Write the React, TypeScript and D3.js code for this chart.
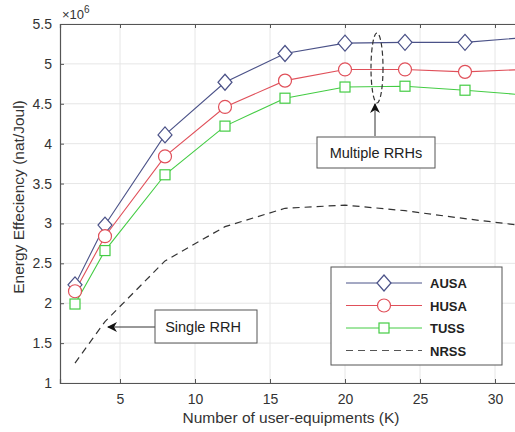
import React, { useEffect, useRef } from 'react';
import * as d3 from 'd3';

// values are in units of 1e6 nat/Joul
const users = [2, 4, 8, 12, 16, 20, 24, 28, 32];
const ausa = [2.23, 2.98, 4.11, 4.77, 5.13, 5.26, 5.27, 5.27, 5.33];
const husa = [2.15, 2.84, 3.84, 4.46, 4.79, 4.93, 4.93, 4.9, 4.93];
const tuss = [1.99, 2.66, 3.61, 4.22, 4.57, 4.71, 4.72, 4.67, 4.61];
const nrss = [1.25, 1.77, 2.53, 2.96, 3.19, 3.23, 3.16, 3.06, 2.97];
const xTicks = [5, 10, 15, 20, 25, 30];
const yTicks = [1, 1.5, 2, 2.5, 3, 3.5, 4, 4.5, 5, 5.5];

const App = () => {
  const svgRef = useRef<SVGSVGElement>(null);

  useEffect(() => {
    const w = 515;
    const h = 432;
    const m = { left: 60, top: 24, right: 525, bottom: 383 };
    const svg = d3.select(svgRef.current).attr('width', w).attr('height', h);
    svg.selectAll('*').remove();
    svg.append('rect').attr('width', w).attr('height', h).attr('fill', '#fff');

    const x = d3.scaleLinear().domain([1, 32]).range([m.left, m.right]);
    const y = d3.scaleLinear().domain([1, 5.5]).range([m.bottom, m.top]);
    const font = 'Liberation Sans, Arial, sans-serif';

    // grid
    const grid = svg.append('g').attr('stroke', '#e6e6e6').attr('stroke-width', 1);
    xTicks.forEach((t) =>
      grid.append('line').attr('x1', x(t)).attr('x2', x(t)).attr('y1', m.top).attr('y2', m.bottom)
    );
    yTicks.forEach((t) =>
      grid.append('line').attr('x1', m.left).attr('x2', m.right).attr('y1', y(t)).attr('y2', y(t))
    );

    // axes
    const xAxis = d3.axisBottom(x).tickValues(xTicks).tickSize(-4).tickPadding(11);
    const gx = svg.append('g').attr('transform', `translate(0,${m.bottom})`).call(xAxis);
    const xTop = d3.axisTop(x).tickValues(xTicks).tickSize(-4).tickFormat(() => '');
    const gxt = svg.append('g').attr('transform', `translate(0,${m.top})`).call(xTop);
    const yAxis = d3.axisLeft(y).tickValues(yTicks).tickSize(-4).tickPadding(8).tickFormat(d3.format('~g'));
    const gy = svg.append('g').attr('transform', `translate(${m.left},0)`).call(yAxis);
    [gx, gxt, gy].forEach((g) => {
      g.select('.domain').attr('stroke', '#555').attr('stroke-width', 1.2);
      g.selectAll('.tick line').attr('stroke', '#555');
      g.selectAll('.tick text').attr('fill', '#333').attr('font-size', 14).attr('font-family', font);
    });

    svg.append('text').attr('x', 62).attr('y', 19).attr('font-family', font).attr('font-size', 13).attr('fill', '#333')
      .text('×10')
      .append('tspan').attr('dy', -6).attr('font-size', 10).text('6');

    svg.append('text').attr('x', 291).attr('y', 423).attr('text-anchor', 'middle')
      .attr('font-family', font).attr('font-size', 15.5).attr('fill', '#333')
      .text('Number of user-equipments (K)');
    svg.append('text').attr('transform', `translate(24,197) rotate(-90)`)
      .attr('text-anchor', 'middle').attr('font-family', font).attr('font-size', 15.5).attr('fill', '#333')
      .text('Energy Effeciency (nat/Joul)');

    const plot = svg.append('g');
    const line = d3.line<number>().x((d, i) => x(users[i])).y((d) => y(d));

    const series = [
      { name: 'AUSA', data: ausa, color: '#4b5288', marker: 'diamond' },
      { name: 'HUSA', data: husa, color: '#e0505a', marker: 'circle' },
      { name: 'TUSS', data: tuss, color: '#44cc44', marker: 'square' },
    ];

    const drawMarker = (g: any, kind: string, cx: number, cy: number, color: string) => {
      if (kind === 'diamond') {
        g.append('path').attr('d', `M${cx},${cy - 8}L${cx + 7},${cy}L${cx},${cy + 8}L${cx - 7},${cy}Z`)
          .attr('fill', '#fff').attr('stroke', color).attr('stroke-width', 1.2);
      } else if (kind === 'circle') {
        g.append('circle').attr('cx', cx).attr('cy', cy).attr('r', 6.5)
          .attr('fill', '#fff').attr('stroke', color).attr('stroke-width', 1.2);
      } else {
        g.append('rect').attr('x', cx - 5).attr('y', cy - 5).attr('width', 10).attr('height', 10)
          .attr('fill', '#fff').attr('stroke', color).attr('stroke-width', 1.2);
      }
    };

    plot.append('path').datum(nrss).attr('d', line).attr('fill', 'none')
      .attr('stroke', '#333').attr('stroke-width', 1.2).attr('stroke-dasharray', '7,5');

    series.forEach((s) => {
      plot.append('path').datum(s.data).attr('d', line).attr('fill', 'none')
        .attr('stroke', s.color).attr('stroke-width', 1.1);
    });
    series.forEach((s) => {
      s.data.forEach((d, i) => drawMarker(plot, s.marker, x(users[i]), y(d), s.color));
    });

    // annotations
    const defs = svg.append('defs');
    defs.append('marker').attr('id', 'arr').attr('viewBox', '0 0 10 10').attr('refX', 9).attr('refY', 5)
      .attr('markerWidth', 10).attr('markerHeight', 10).attr('orient', 'auto-start-reverse')
      .append('path').attr('d', 'M0,0L10,5L0,10L3,5Z').attr('fill', '#111');

    svg.append('ellipse').attr('cx', 377).attr('cy', 68).attr('rx', 6).attr('ry', 35)
      .attr('fill', 'none').attr('stroke', '#333').attr('stroke-width', 1.2).attr('stroke-dasharray', '5,3');
    svg.append('line').attr('x1', 375).attr('y1', 136).attr('x2', 375).attr('y2', 104)
      .attr('stroke', '#333').attr('stroke-width', 1).attr('marker-end', 'url(#arr)');
    svg.append('rect').attr('x', 317).attr('y', 137).attr('width', 118).attr('height', 31)
      .attr('fill', '#fff').attr('stroke', '#555');
    svg.append('text').attr('x', 376).attr('y', 158).attr('text-anchor', 'middle')
      .attr('font-family', font).attr('font-size', 14.5).attr('fill', '#222').text('Multiple RRHs');

    svg.append('line').attr('x1', 155).attr('y1', 327).attr('x2', 108).attr('y2', 327)
      .attr('stroke', '#333').attr('stroke-width', 1).attr('marker-end', 'url(#arr)');
    svg.append('rect').attr('x', 155).attr('y', 310).attr('width', 102).attr('height', 33)
      .attr('fill', '#fff').attr('stroke', '#555');
    svg.append('text').attr('x', 203).attr('y', 332).attr('text-anchor', 'middle')
      .attr('font-family', font).attr('font-size', 14.5).attr('fill', '#222').text('Single RRH');

    // legend
    const lg = svg.append('g');
    lg.append('rect').attr('x', 331).attr('y', 267).attr('width', 171).attr('height', 98)
      .attr('fill', '#fff').attr('stroke', '#555');
    const rows = [...series, { name: 'NRSS', data: nrss, color: '#555', marker: 'none' }];
    rows.forEach((s, i) => {
      const ly = 283 + i * 22.5;
      lg.append('line').attr('x1', 346).attr('x2', 422).attr('y1', ly).attr('y2', ly)
        .attr('stroke', s.color).attr('stroke-width', 1)
        .attr('stroke-dasharray', s.marker === 'none' ? '7,5' : null);
      if (s.marker !== 'none') drawMarker(lg, s.marker, 384, ly, s.color);
      lg.append('text').attr('x', 430).attr('y', ly + 5).attr('font-family', font)
        .attr('font-size', 13).attr('font-weight', 'bold').attr('fill', '#222').text(s.name);
    });
  }, []);

  return <svg ref={svgRef} style={{ position: 'absolute', left: 0, top: 0 }}></svg>;
};

export default App;
